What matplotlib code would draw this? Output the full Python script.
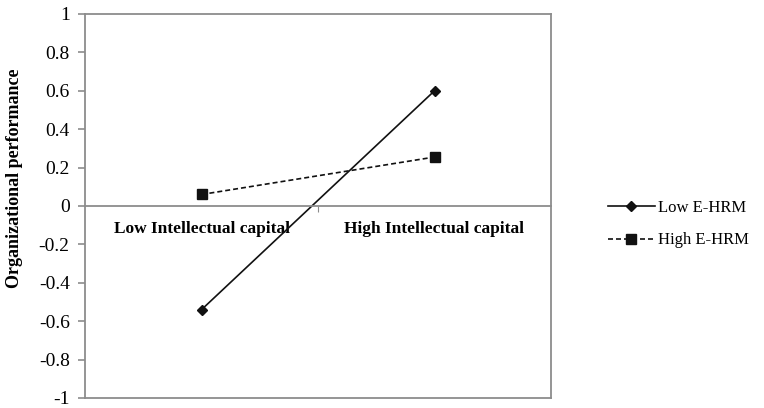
import matplotlib
matplotlib.use("Agg")
import matplotlib.pyplot as plt
from matplotlib.ticker import FuncFormatter

# interaction plot: organizational performance by intellectual capital level
categories = ["Low Intellectual capital", "High Intellectual capital"]
low_ehrm = [-0.54, 0.60]
high_ehrm = [0.06, 0.255]
series_names = ["Low E-HRM", "High E-HRM"]
y_ticks = [-1, -0.8, -0.6, -0.4, -0.2, 0, 0.2, 0.4, 0.6, 0.8, 1]

plt.rcParams["font.family"] = ["Liberation Serif", "DejaVu Serif"]
plt.rcParams["axes.unicode_minus"] = False

frame = "#8c8c8c"
ink = "#111111"

fig = plt.figure(figsize=(7.64, 4.08), dpi=100)
ax = fig.add_axes([85 / 764, 10 / 408, 466 / 764, 384 / 408])

x = list(range(len(categories)))
ax.plot(x, low_ehrm, color=ink, lw=1.2, marker="D", ms=5,
        label=series_names[0])
ax.plot(x, high_ehrm, color=ink, lw=1.2, ls=(0, (3, 1.8)), marker="s",
        ms=7.5, label=series_names[1])

ax.set_xlim(-0.5, 1.5)
ax.set_ylim(-1, 1)
ax.set_yticks(y_ticks)
ax.yaxis.set_major_formatter(FuncFormatter(lambda v, _: f"{v:g}"))
ax.tick_params(axis="y", length=5, width=1.2, color=frame, pad=6,
               labelsize=14)
for s in ax.spines.values():
    s.set_color(frame)
    s.set_linewidth(1.3)

# category axis crosses at zero, the frame is closed underneath
ax.spines["bottom"].set_position(("data", 0))
ax.axhline(ax.get_ylim()[0], color=frame, lw=1.3, clip_on=False)
ax.set_xticks(x, labels=categories)
ax.tick_params(axis="x", length=0, pad=11, labelsize=12.5)
for lbl in ax.get_xticklabels():
    lbl.set_fontweight("bold")
ax.set_xticks([0.5], minor=True)
ax.tick_params(axis="x", which="minor", length=4, width=0.8, color=frame)

ax.set_ylabel("Organizational performance", fontsize=13, fontweight="bold")
ax.yaxis.set_label_coords(-0.133, 0.573)

fig.legend(loc="center left", bbox_to_anchor=(593 / 764, 1 - 224 / 408),
           frameon=False, fontsize=12, handlelength=2.8,
           handletextpad=0.2, labelspacing=1.0)

fig.savefig("out.png", dpi=100)
